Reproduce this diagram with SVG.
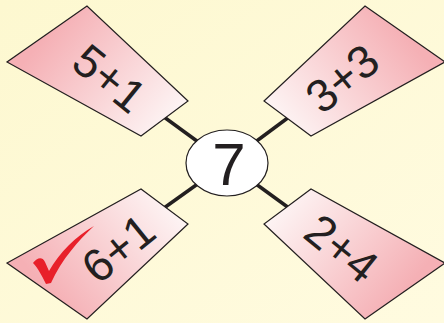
<svg xmlns="http://www.w3.org/2000/svg" width="444" height="323" viewBox="0 0 444 323">
<defs>
<linearGradient id="bgGrad" x1="0" y1="0" x2="1" y2="1">
<stop offset="0" stop-color="#fdf8d0"/>
<stop offset="1" stop-color="#fffbe0"/>
</linearGradient>
<linearGradient id="tagGrad" gradientUnits="userSpaceOnUse" x1="50" y1="30" x2="165" y2="125">
<stop offset="0" stop-color="#f5b0b5"/>
<stop offset="1" stop-color="#fdf3f3"/>
</linearGradient>
<style>
.tag{fill:url(#tagGrad);stroke:#231f20;stroke-width:1.2;stroke-linejoin:miter}
.link{stroke:#231f20;stroke-width:3.5;fill:none}
.lbl{font-family:"Liberation Sans",Arial,sans-serif;font-size:46px;fill:#231f20;text-anchor:middle}
</style>
</defs>
<rect width="444" height="323" fill="url(#bgGrad)"/>
<g id="connectors">
<line class="link" x1="164" y1="117" x2="227" y2="163"/>
<line class="link" x1="289" y1="117" x2="227" y2="163"/>
<line class="link" x1="164" y1="208" x2="227" y2="163"/>
<line class="link" x1="289" y1="208" x2="227" y2="163"/>
</g>
<g id="tag-5plus1">
<polygon class="tag" points="87,6 7,62 141,136 188,101"/>
<text class="lbl" transform="translate(110,78) rotate(39)" y="16.5">5+1</text>
</g>
<g id="tag-3plus3">
<polygon class="tag" transform="translate(452,0) scale(-1,1)" points="87,6 7,62 141,136 188,101"/>
<text class="lbl" transform="translate(342,78) rotate(-39)" y="16.5">3+3</text>
</g>
<g id="tag-6plus1">
<polygon class="tag" transform="translate(0,325) scale(1,-1)" points="87,6 7,62 141,136 188,101"/>
<path d="M33,263 C37,258 42,256 45,262 L49,271 C60,252 75,237 94,226 C78,241 62,259 51,283 L46,284 C42,276 38,268 33,263 Z" fill="#e8202a"/>
<text class="lbl" transform="translate(118,248) rotate(-39)" y="16.5">6+1</text>
</g>
<g id="tag-2plus4">
<polygon class="tag" transform="translate(452,325) scale(-1,-1)" points="87,6 7,62 141,136 188,101"/>
<text class="lbl" transform="translate(342,248) rotate(39)" y="16.5">2+4</text>
</g>
<g id="center-7">
<ellipse cx="227" cy="163" rx="41" ry="33" fill="#ffffff" stroke="#231f20" stroke-width="1.2"/>
<text x="229" y="185" font-family="'Liberation Sans',Arial,sans-serif" font-size="60" fill="#231f20" text-anchor="middle">7</text>
</g>
</svg>
